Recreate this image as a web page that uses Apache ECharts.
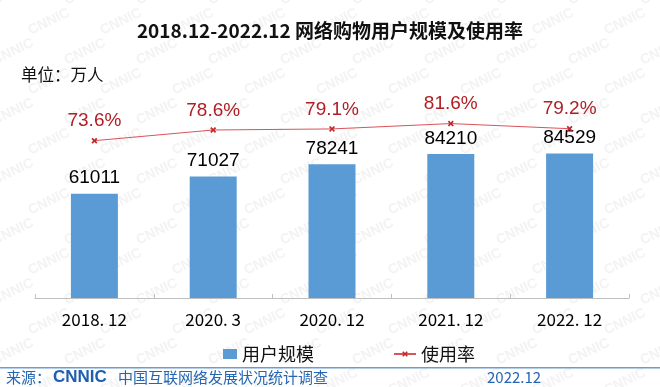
<!DOCTYPE html>
<html><head><meta charset="utf-8">
<script src="https://cdn.jsdelivr.net/npm/echarts@6/dist/echarts.min.js"></script>
<style>html,body{margin:0;padding:0;background:#fff}#c{width:660px;height:387px}</style>
</head><body><div id="c"></div>
<script>
var categories = ['2018. 12', '2020. 3', '2020. 12', '2021. 12', '2022. 12'];
var users = [61011, 71027, 78241, 84210, 84529];
var rates = [73.6, 78.6, 79.1, 81.6, 79.2];
var titleText = '2018.12-2022.12 网络购物用户规模及使用率';
var unitText = '单位：万人';
var seriesNames = ['用户规模', '使用率'];

var chart = echarts.init(document.getElementById('c'), null, {renderer: 'canvas'});
var cjk = '"Noto Sans CJK SC", "Noto Sans", sans-serif';
var arial = '"Liberation Sans", Arial, sans-serif';
var xPath = 'path://M2,0L5,3L8,0L10,2L7,5L10,8L8,10L5,7L2,10L0,8L3,5L0,2Z';

var graphics = [];
// watermark
for (var r = 0; r < 14; r++) {
  for (var c = 0; c < 11; c++) {
    graphics.push({type: 'text', z: -10, silent: true, rotation: Math.PI / 7,
      x: c * 72 - 10 + (r % 2) * 36, y: r * 30 - 5,
      style: {text: 'CNNIC', fill: '#f3f3f3', font: 'bold 14px ' + arial}});
  }
}
graphics.push(
  {type: 'text', left: 'center', top: 21, z: 10,
   style: {text: titleText, fill: '#111', font: 'bold 19px ' + cjk}},
  {type: 'text', left: 21, top: 66, z: 10,
   style: {text: unitText, fill: '#111', font: '16.5px ' + cjk}},
  {type: 'rect', left: 0, top: 367, z: 10, shape: {width: 660, height: 1.5}, style: {fill: '#6F9BD1'}},
  {type: 'text', left: 6, top: 370, z: 10,
   style: {text: '来源：', fill: '#2466B3', font: '15px ' + cjk}},
  {type: 'text', left: 53, top: 369, z: 10,
   style: {text: 'CNNIC', fill: '#1E5FAE', font: 'bold 17px ' + arial}},
  {type: 'text', left: 118, top: 370, z: 10,
   style: {text: '中国互联网络发展状况统计调查', fill: '#2466B3', font: '15px ' + cjk}},
  {type: 'text', left: 487, top: 370, z: 10,
   style: {text: '2022.12', fill: '#2466B3', font: '15px ' + cjk}}
);

chart.setOption({
  animation: false,
  backgroundColor: '#fff',
  grid: {left: 35, right: 31, top: 127, bottom: 89},
  legend: [
    {data: [seriesNames[0]], left: 218, top: 340, itemWidth: 14, itemHeight: 10, icon: 'rect',
     textStyle: {fontSize: 18, color: '#111', fontFamily: cjk}},
    {data: [seriesNames[1]], left: 388, top: 340, itemWidth: 22, itemHeight: 7,
     textStyle: {fontSize: 18, color: '#111', fontFamily: cjk}}
  ],
  xAxis: {
    type: 'category', data: categories,
    axisLine: {lineStyle: {color: '#BFBFBF', width: 1}},
    axisTick: {show: true, inside: true, length: 4, lineStyle: {color: '#BFBFBF'}},
    axisLabel: {color: '#000', fontSize: 17, margin: 13, fontFamily: cjk}
  },
  yAxis: [
    {type: 'value', min: 0, max: 100000, show: false, splitLine: {show: false}},
    {type: 'value', min: 0, max: 80, show: false, splitLine: {show: false}}
  ],
  series: [
    {name: seriesNames[0], type: 'bar', data: users, barWidth: 47, yAxisIndex: 0,
     itemStyle: {color: '#5B9BD5'},
     label: {show: true, position: 'top', distance: 6, color: '#000', fontSize: 19, fontFamily: arial}},
    {name: seriesNames[1], type: 'line', data: rates, yAxisIndex: 1, clip: false, z: 5,
     symbol: xPath, symbolSize: 6,
     lineStyle: {color: '#D9545A', width: 1},
     itemStyle: {color: '#C0282D'},
     label: {show: true, position: 'top', distance: 7, color: '#B01E24', fontSize: 19, fontFamily: arial,
       formatter: function (p) { return p.value.toFixed(1) + '%'; }}}
  ],
  graphic: graphics
});
</script></body></html>
